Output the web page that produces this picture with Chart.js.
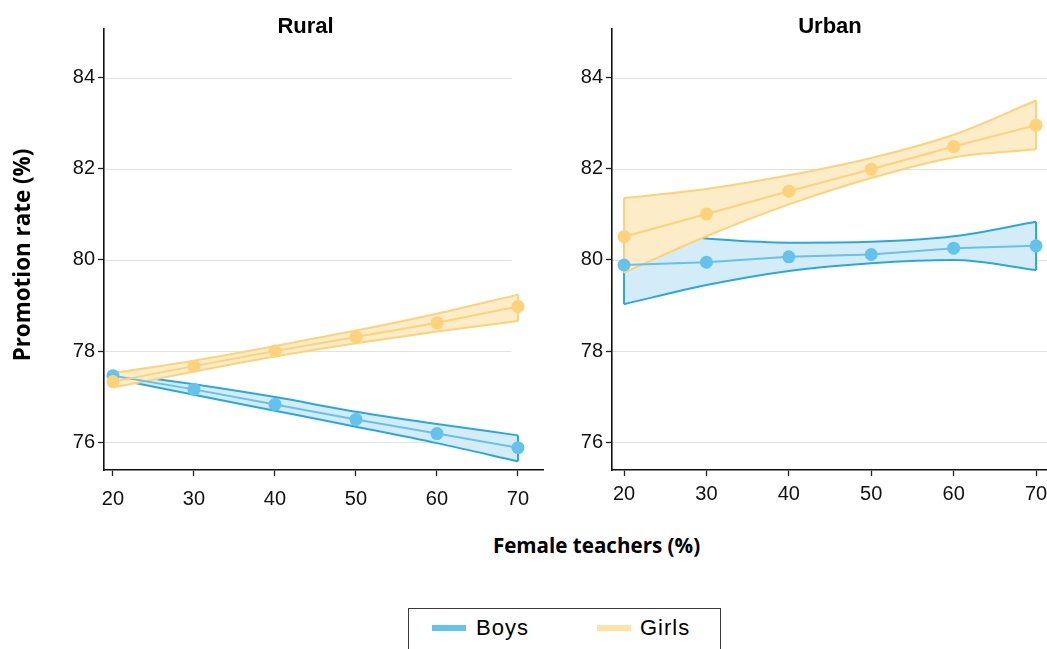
<!DOCTYPE html>
<html>
<head>
<meta charset="utf-8">
<title>Promotion rate by share of female teachers</title>
<script src="https://cdn.jsdelivr.net/npm/chart.js@4.4.1/dist/chart.umd.min.js"></script>
<style>
  html, body { margin: 0; padding: 0; background: #fff; }
  body { width: 1047px; height: 649px; position: relative; overflow: hidden;
         font-family: "Liberation Sans", Arial, sans-serif; color: #000; }
  canvas { position: absolute; top: 0; }
  #ruralChart { left: 0; }
  #urbanChart { left: 545px; }
  .txt { position: absolute; white-space: nowrap; line-height: 1; }
  .panel-title { font-weight: bold; font-size: 22px; top: 14.7px; transform: translateX(-50%); }
  .axis-title { font-family: "Open Sans", "Liberation Sans", sans-serif; font-weight: bold; }
  #xTitle { font-size: 20.6px; left: 596.5px; top: 534.7px; transform: translateX(-50%); }
  #yTitle { font-size: 22.4px; left: 21.5px; top: 255px; width: 300px; height: 22px; margin-left: -150px; margin-top: -11px;
            text-align: center; transform: rotate(-90deg); }
  #legend { position: absolute; left: 408px; top: 608px; width: 313px; height: 60px;
            border: 1.5px solid #3a3a3a; border-bottom: none; box-sizing: border-box; }
  .swatch { position: absolute; top: 625px; width: 34px; height: 6px; }
  .legend-label { font-size: 22px; top: 617.4px; letter-spacing: 1px; }
</style>
</head>
<body>
<canvas id="ruralChart" width="545" height="520"></canvas>
<canvas id="urbanChart" width="502" height="520"></canvas>

<div class="txt panel-title" style="left:305.5px">Rural</div>
<div class="txt panel-title" style="left:830px">Urban</div>
<div class="txt axis-title" id="xTitle">Female teachers (%)</div>
<div class="txt axis-title" id="yTitle">Promotion rate (%)</div>

<div id="legend"></div>
<div class="swatch" style="left:432px;background:#63c3ea"></div>
<div class="txt legend-label" style="left:476px">Boys</div>
<div class="swatch" style="left:597px;background:#fde3a6"></div>
<div class="txt legend-label" style="left:640px">Girls</div>

<script>
// Share of female teachers (%) at which the predictions are evaluated
const xValues = [20, 30, 40, 50, 60, 70];
const xTicks = [20, 30, 40, 50, 60, 70];
const yTicks = [76, 78, 80, 82, 84];

// Rural schools: predicted promotion rate and confidence band
const ruralBoys     = [77.46, 77.16, 76.83, 76.50, 76.19, 75.88];
const ruralBoysLow  = [77.40, 77.04, 76.69, 76.34, 75.98, 75.58];
const ruralBoysHigh = [77.52, 77.27, 76.99, 76.67, 76.40, 76.15];
const ruralGirls     = [77.33, 77.67, 78.00, 78.31, 78.62, 78.98];
const ruralGirlsLow  = [77.20, 77.55, 77.88, 78.17, 78.43, 78.66];
const ruralGirlsHigh = [77.52, 77.79, 78.11, 78.45, 78.82, 79.24];

// Urban schools
const urbanBoys     = [79.89, 79.95, 80.07, 80.12, 80.26, 80.31];
const urbanBoysLow  = [79.03, 79.45, 79.76, 79.93, 80.00, 79.78];
const urbanBoysHigh = [80.62, 80.47, 80.38, 80.40, 80.52, 80.84];
const urbanGirls     = [80.51, 81.01, 81.51, 81.99, 82.49, 82.96];
const urbanGirlsLow  = [79.72, 80.52, 81.22, 81.80, 82.25, 82.43];
const urbanGirlsHigh = [81.36, 81.56, 81.86, 82.24, 82.75, 83.50];

const COLORS = {
  boys:  { band: '#29a8e0', fill: '#d4ecf7', line: '#63c3ec' },
  girls: { band: '#fdd27a', fill: '#fdecc8', line: '#fdd27a' }
};
const FONT = '"Liberation Sans", Arial, sans-serif';

const pts = ys => xValues.map((x, i) => ({ x, y: ys[i] }));

// Confidence band: upper edge filled down to lower edge, plus the two closing end lines
function bandDatasets(low, high, c, baseOrder) {
  const common = { borderColor: c.band, borderWidth: 2, pointRadius: 0, pointHoverRadius: 0 };
  const last = xValues.length - 1;
  return [
    { ...common, data: pts(high), fill: '+1', backgroundColor: c.fill,
      cubicInterpolationMode: 'monotone', order: baseOrder + 1 },
    { ...common, data: pts(low), fill: false, cubicInterpolationMode: 'monotone', order: baseOrder },
    { ...common, data: [{ x: xValues[0], y: low[0] }, { x: xValues[0], y: high[0] }], fill: false, order: baseOrder },
    { ...common, data: [{ x: xValues[last], y: low[last] }, { x: xValues[last], y: high[last] }], fill: false, order: baseOrder }
  ];
}

function meanDataset(vals, c, order) {
  return { data: pts(vals), borderColor: c.line, borderWidth: 2, tension: 0, fill: false,
           pointRadius: 6.5, pointHoverRadius: 6.5, pointBackgroundColor: c.line, pointBorderWidth: 0, order };
}

// Light horizontal reference lines at the y ticks
const gridPlugin = {
  id: 'hGrid',
  beforeDatasetsDraw(chart, args, opts) {
    const { ctx, chartArea, scales: { x, y } } = chart;
    const end = opts.endValue != null ? x.getPixelForValue(opts.endValue) : chartArea.right;
    ctx.save();
    ctx.strokeStyle = '#e2e2e2';
    ctx.lineWidth = 1;
    y.ticks.forEach(t => {
      const py = Math.round(y.getPixelForValue(t.value)) + 0.5;
      ctx.beginPath();
      ctx.moveTo(chartArea.left + 1, py);
      ctx.lineTo(end, py);
      ctx.stroke();
    });
    ctx.restore();
  }
};

function makeChart(id, s, layout) {
  const datasets = [
    ...bandDatasets(s.boysLow, s.boysHigh, COLORS.boys, 10),
    ...bandDatasets(s.girlsLow, s.girlsHigh, COLORS.girls, 8),
    meanDataset(s.boys, COLORS.boys, 2),
    meanDataset(s.girls, COLORS.girls, 1)
  ];
  return new Chart(document.getElementById(id), {
    type: 'line',
    data: { datasets },
    plugins: [gridPlugin],
    options: {
      responsive: false,
      animation: false,
      events: [],
      layout: { autoPadding: false, padding: { top: 29, right: layout.padRight, left: 0, bottom: 0 } },
      plugins: {
        legend: { display: false },
        tooltip: { enabled: false },
        title: { display: false },
        hGrid: { endValue: layout.gridEnd }
      },
      scales: {
        x: {
          type: 'linear',
          min: layout.xMin,
          max: layout.xMax,
          afterBuildTicks: sc => { sc.ticks = xTicks.map(v => ({ value: v })); },
          afterFit: sc => { sc.height = 50; sc.paddingLeft = 0; sc.paddingRight = 0; },
          grid: { display: true, drawOnChartArea: false, drawTicks: true, tickLength: 6, tickColor: '#222', tickWidth: 1.3 },
          border: { display: true, color: '#111', width: 1.6 },
          ticks: { font: { family: FONT, size: 20 }, color: '#111', padding: layout.xLabelPad, maxRotation: 0, autoSkip: false }
        },
        y: {
          type: 'linear',
          min: 75.39,
          max: 85.07,
          afterBuildTicks: sc => { sc.ticks = yTicks.map(v => ({ value: v })); },
          afterFit: sc => { sc.width = layout.yWidth; },
          grid: { display: true, drawOnChartArea: false, drawTicks: true, tickLength: 6, tickColor: '#222', tickWidth: 1.3 },
          border: { display: true, color: '#111', width: 1.6 },
          ticks: { font: { family: FONT, size: 20 }, color: '#111', padding: 3 }
        }
      }
    }
  });
}

makeChart('ruralChart', {
  boys: ruralBoys, boysLow: ruralBoysLow, boysHigh: ruralBoysHigh,
  girls: ruralGirls, girlsLow: ruralGirlsLow, girlsHigh: ruralGirlsHigh
}, { yWidth: 104, padRight: 2, xMin: 18.89, xMax: 73.09, gridEnd: 69.2, xLabelPad: 11 });

makeChart('urbanChart', {
  boys: urbanBoys, boysLow: urbanBoysLow, boysHigh: urbanBoysHigh,
  girls: urbanGirls, girlsLow: urbanGirlsLow, girlsHigh: urbanGirlsHigh
}, { yWidth: 67, padRight: 0, xMin: 18.54, xMax: 71.33, gridEnd: null, xLabelPad: 6 });
</script>
</body>
</html>
